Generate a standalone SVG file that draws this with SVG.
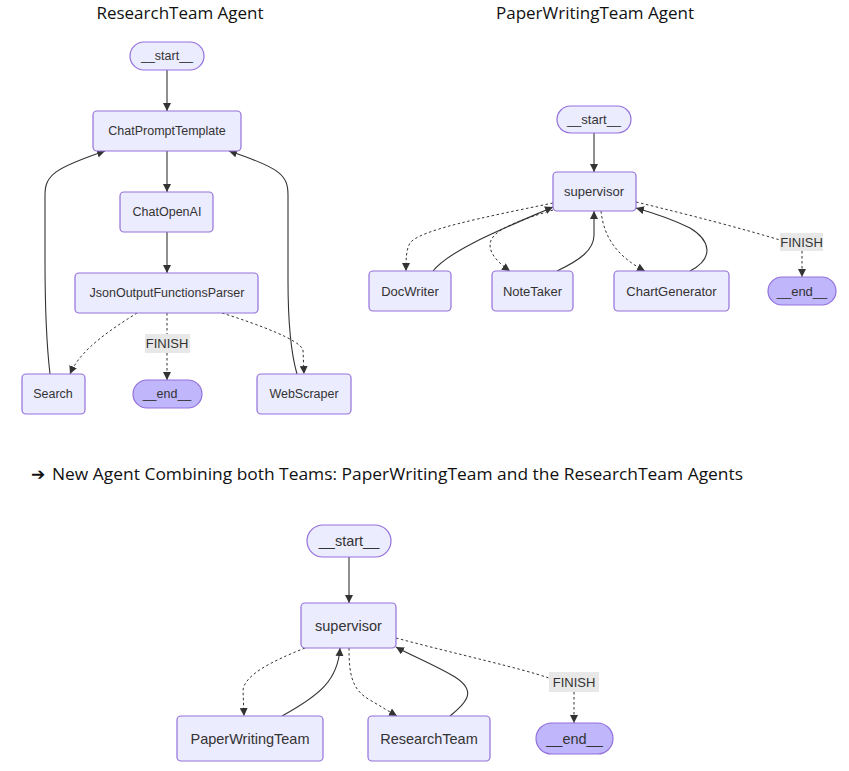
<svg xmlns="http://www.w3.org/2000/svg" width="849" height="771" viewBox="0 0 849 771">
<style>
.node rect{fill:#ECECFF;stroke:#9370DB;stroke-width:1.2}
.node.end rect{fill:#BFB6FC}
.node text{font-family:"Liberation Sans",Arial,sans-serif;font-size:13px;fill:#333;text-anchor:middle;dominant-baseline:central}
.rt.node text{font-size:12.5px}
.cb.node text{font-size:14.5px}
.title{font-family:"Open Sans",sans-serif;font-size:17px;fill:#111;text-anchor:middle}
.caption{font-family:"Open Sans",sans-serif;font-size:17px;fill:#111}
.e{fill:none;stroke:#333;stroke-width:1.1}
.d{stroke-dasharray:2.5,2.5;stroke-width:1}
.lbl rect{fill:#E8E8E8}
.lbl text{font-family:"Liberation Sans",Arial,sans-serif;font-size:13px;fill:#333;text-anchor:middle;dominant-baseline:central}
</style>
<defs>
<marker id="ah" viewBox="0 0 10 10" refX="10" refY="5" markerWidth="8" markerHeight="8" markerUnits="userSpaceOnUse" orient="auto">
<path d="M0,0 L10,5 L0,10 z" fill="#333"/>
</marker>
</defs>
<rect width="849" height="771" fill="#fff"/>
<text class="title" x="180" y="19">ResearchTeam Agent</text>
<text class="title" x="595" y="19">PaperWritingTeam Agent</text>
<text class="caption" x="31" y="480" font-size="15">➔</text>
<text class="caption" x="52" y="480" textLength="691" lengthAdjust="spacingAndGlyphs">New Agent Combining both Teams: PaperWritingTeam and the ResearchTeam Agents</text>

<g id="connectors">
<!-- Research team -->
<path class="e" marker-end="url(#ah)" d="M167,70 L167,111"/>
<path class="e" marker-end="url(#ah)" d="M167,151 L167,192"/>
<path class="e" marker-end="url(#ah)" d="M167,232 L167,273"/>
<path class="e d" marker-end="url(#ah)" d="M137,313 C110,330 80,350 70,374"/>
<path class="e d" marker-end="url(#ah)" d="M167,313 L167,380"/>
<path class="e d" marker-end="url(#ah)" d="M222,313 C260,325 300,340 303,350 L304,374"/>
<path class="e" marker-end="url(#ah)" d="M50,374 C46,340 45,300 45,260 L45,195 C45,175 55,168 105,151"/>
<path class="e" marker-end="url(#ah)" d="M297,374 C290,350 288,320 288,280 L288,195 C288,175 280,168 229,151"/>
<!-- PaperWriting team -->
<path class="e" marker-end="url(#ah)" d="M594,133 L594,172"/>
<path class="e d" marker-end="url(#ah)" d="M553,203 C480,218 420,230 410,243 C406,250 406,260 406,271"/>
<path class="e" marker-end="url(#ah)" d="M433,271 C450,250 500,230 553,207"/>
<path class="e d" marker-end="url(#ah)" d="M553,210 C520,220 490,230 490,245 C490,255 500,264 510,271"/>
<path class="e" marker-end="url(#ah)" d="M557,271 C580,260 594,250 594,235 L594,211"/>
<path class="e d" marker-end="url(#ah)" d="M601,211 C604,240 620,258 645,271"/>
<path class="e" marker-end="url(#ah)" d="M690,271 C715,258 710,240 690,228 C670,218 650,212 636,208"/>
<path class="e d" d="M636,202 C690,215 740,228 780,240"/>
<path class="e d" marker-end="url(#ah)" d="M802,251 L802,277"/>
<!-- Combined -->
<path class="e" marker-end="url(#ah)" d="M349,557 L349,603"/>
<path class="e d" marker-end="url(#ah)" d="M305,648 C270,662 245,675 243,690 L244,716"/>
<path class="e" marker-end="url(#ah)" d="M282,716 C320,695 338,680 340,648"/>
<path class="e d" marker-end="url(#ah)" d="M349,648 C349,675 352,690 370,700 C380,706 390,712 397,716"/>
<path class="e" marker-end="url(#ah)" d="M450,716 C470,700 475,690 455,677 C435,665 410,655 396,647"/>
<path class="e d" d="M396,638 C460,655 520,668 549,678"/>
<path class="e d" marker-end="url(#ah)" d="M574,692 L574,723"/>
</g>

<!-- Research team nodes -->
<g id="rt_start" class="node rt"><rect x="130" y="42" width="74" height="28" rx="14"/><text x="167" y="56">__start__</text></g>
<g id="rt_cpt" class="node rt"><rect x="93" y="111" width="148" height="40" rx="4"/><text x="167" y="131">ChatPromptTemplate</text></g>
<g id="rt_coai" class="node rt"><rect x="120" y="192" width="93" height="40" rx="4"/><text x="167" y="212">ChatOpenAI</text></g>
<g id="rt_json" class="node rt"><rect x="75" y="273" width="183" height="40" rx="4"/><text x="167" y="293">JsonOutputFunctionsParser</text></g>
<g id="rt_search" class="node rt"><rect x="22" y="374" width="63" height="40" rx="4"/><text x="53" y="394">Search</text></g>
<g id="rt_end" class="node rt end"><rect x="133" y="380" width="69" height="28" rx="14"/><text x="167" y="394">__end__</text></g>
<g id="rt_web" class="node rt"><rect x="257" y="374" width="94" height="40" rx="4"/><text x="304" y="394">WebScraper</text></g>
<g id="rt_finish" class="lbl"><rect x="145" y="334" width="45" height="19"/><text x="167" y="343.5">FINISH</text></g>

<!-- PaperWriting team nodes -->
<g id="pw_start" class="node"><rect x="557" y="106" width="74" height="27" rx="13.5"/><text x="594" y="119.5">__start__</text></g>
<g id="pw_sup" class="node"><rect x="553" y="172" width="83" height="39" rx="4"/><text x="594" y="191.5">supervisor</text></g>
<g id="pw_doc" class="node"><rect x="369" y="271" width="82" height="40" rx="4"/><text x="410" y="291">DocWriter</text></g>
<g id="pw_note" class="node"><rect x="492" y="271" width="81" height="40" rx="4"/><text x="532.5" y="291">NoteTaker</text></g>
<g id="pw_chart" class="node"><rect x="614" y="271" width="115" height="40" rx="4"/><text x="671.5" y="291">ChartGenerator</text></g>
<g id="pw_end" class="node end"><rect x="768" y="277" width="68" height="28" rx="14"/><text x="802" y="291">__end__</text></g>
<g id="pw_finish" class="lbl"><rect x="780" y="233" width="43" height="18"/><text x="801.5" y="242">FINISH</text></g>

<!-- Combined nodes -->
<g id="c_start" class="node cb"><rect x="307" y="525" width="84" height="32" rx="16"/><text x="349" y="541">__start__</text></g>
<g id="c_sup" class="node cb"><rect x="301" y="603" width="95" height="45" rx="4"/><text x="348.5" y="625.5">supervisor</text></g>
<g id="c_pwt" class="node cb"><rect x="177" y="716" width="146" height="45" rx="4"/><text x="250" y="738.5">PaperWritingTeam</text></g>
<g id="c_rt" class="node cb"><rect x="368" y="716" width="122" height="45" rx="4"/><text x="429" y="738.5">ResearchTeam</text></g>
<g id="c_end" class="node cb end"><rect x="536" y="723" width="77" height="31" rx="15.5"/><text x="574.5" y="738.5">__end__</text></g>
<g id="c_finish" class="lbl"><rect x="549" y="672" width="50" height="20"/><text x="574" y="682">FINISH</text></g>
</svg>
